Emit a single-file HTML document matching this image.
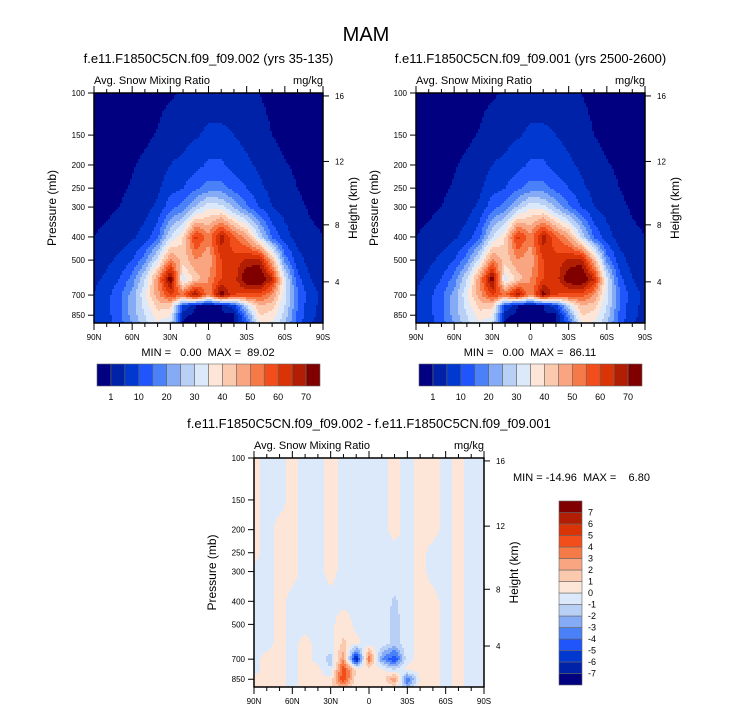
<!DOCTYPE html>
<html><head><meta charset="utf-8"><style>
body{margin:0;background:#fff;}
svg{display:block;font-family:"Liberation Sans",sans-serif;}
text{white-space:pre;}
</style></head><body>
<svg id="fig" width="733" height="712" viewBox="0 0 733 712" xmlns="http://www.w3.org/2000/svg">
<rect width="733" height="712" fill="#fff"/>
<text x="366" y="41" font-size="20" text-anchor="middle">MAM</text>
</svg>
<script>
// ---------- data ----------
const lats = [90,80,70,60,50,40,30,20,10,0,-10,-20,-30,-40,-50,-60,-70,-80,-90];
const levels = [100,150,200,250,300,400,500,600,700,775,850,925];
const snowA = [
 [0,0,0,0,0,0,0.5,1.5,2,2.5,2.5,2.5,2,1,0.3,0,0,0,0],
 [0,0,0,0,0.5,1.2,3,3.5,4.5,6,6,5,3.5,2,1,0.3,0,0,0],
 [0,0,0.3,0.8,1.5,2.5,5,6,8,11,11,8,6,4,2,1.2,0.5,0,0],
 [0,0.3,0.6,1.2,2,4,8,10,14,17,17,13,10,6,3.5,2,1,0.3,0],
 [0.3,0.5,1,1.8,3,6,13,17,26,34,32,24,16,10,5,3,1.5,0.7,0.4],
 [1,1.5,2.5,4,7,14,30,40,62,52,68,56,48,30,14,7,3,1.5,1],
 [2,4,6,10,18,32,52,42,50,46,60,62,66,68,45,18,7,3,1.5],
 [4,6,10,17,30,50,75,32,42,50,60,62,76,78,65,32,12,5,3],
 [5,8,14,22,34,48,60,55,72,50,75,60,58,58,50,32,16,7,4],
 [5,8,14,22,32,42,42,10,1,1,1,8,30,45,42,30,15,6,4],
 [5,8,14,22,30,38,36,2,0,0,0,0,18,40,38,28,14,6,4],
 [5,8,12,20,28,34,30,0,0,0,0,0,12,34,34,26,12,5,3]
];
const snowB = [
 [0,0,0,0,0,0,0.5,1.5,2,2.5,2.5,2.5,2,1,0.3,0,0,0,0],
 [0,0,0,0,0.5,1.2,3,3.5,4.5,6,6,5,3.5,2,1,0.3,0,0,0],
 [0,0,0.3,0.8,1.5,2.5,5,6,8,11,11,8,6,4,2,1.2,0.5,0,0],
 [0,0.3,0.6,1.2,2,4,8,10,14,17,17,13,10,6,3.5,2,1,0.3,0],
 [0.3,0.5,1,1.8,3,6,13,17,26,34,32,24,16,10,5,3,1.5,0.7,0.4],
 [1,1.5,2.5,4,7,14,30,40,62,52,68,56,48,30,14,7,3,1.5,1],
 [2,4,6,10,18,32,52,42,50,46,60,62,66,68,45,18,7,3,1.5],
 [4,6,10,17,30,50,74,32,42,50,60,62,75,77,65,32,12,5,3],
 [5,8,14,22,34,48,60,55,70,50,73,60,58,58,50,32,16,7,4],
 [5,8,14,22,32,42,42,10,1,1,1,8,30,45,42,30,15,6,4],
 [5,8,14,22,30,38,36,2,0,0,0,0,18,40,38,28,14,6,4],
 [5,8,12,20,28,34,30,0,0,0,0,0,12,34,34,26,12,5,3]
];
const diff = [
 [0.3,-0.3,-0.3,0.3,-0.3,-0.3,0.3,-0.3,-0.3,-0.3,-0.3,0.3,-0.3,0.3,0.3,-0.3,0.3,-0.3,-0.3],
 [0.3,-0.3,-0.3,0.3,-0.3,-0.3,0.3,-0.3,-0.3,-0.3,-0.3,0.3,-0.3,0.3,0.3,-0.3,0.3,-0.3,-0.3],
 [0.3,-0.3,0.3,0.3,-0.3,-0.3,0.3,-0.3,-0.3,-0.3,-0.3,0.3,-0.3,0.3,0.3,-0.3,0.3,-0.3,-0.3],
 [0.3,-0.3,0.3,0.3,-0.3,-0.3,0.3,-0.3,-0.3,-0.3,-0.3,-0.3,-0.3,0.3,-0.3,-0.3,0.3,-0.3,-0.3],
 [-0.3,-0.3,0.3,0.3,-0.3,-0.3,0.3,-0.3,-0.3,-0.3,-0.3,-0.3,-0.3,0.3,-0.3,-0.3,0.3,-0.3,-0.3],
 [-0.3,-0.3,0.3,-0.3,-0.3,-0.3,-0.3,-0.3,-0.3,-0.5,-0.3,-1.2,-0.3,0.3,0.3,-0.3,0.3,-0.3,-0.3],
 [-0.3,-0.3,0.3,-0.3,-0.3,-0.3,-0.3,0.6,-0.3,-0.5,-0.3,-1.5,-0.3,0.3,0.3,-0.3,0.3,-0.3,-0.3],
 [-0.3,-0.3,0.3,-0.3,0.3,-0.3,-0.3,1.2,0.3,-0.5,-0.3,-1.5,-0.3,0.3,0.3,-0.3,0.3,-0.3,-0.3],
 [-0.3,0.3,0.3,-0.3,0.3,-0.3,-1.5,3,-7,4,-3,-5,-0.3,0.3,0.3,-0.3,0.3,-0.3,-0.3],
 [-0.3,0.3,0.3,-0.3,0.3,0.3,-1,5,1,0.3,0.3,-1,0.3,0.3,0.3,-0.3,0.3,-0.3,-0.3],
 [0.3,0.3,0.3,-0.3,0.3,0.3,0.3,5,0.3,0.3,0.3,3,-4,0.3,0.3,-0.3,0.3,-0.3,-0.3],
 [0.3,0.3,0.3,-0.3,0.3,0.3,0.8,2,0.3,0.3,0.3,0.3,-2,0.3,0.3,-0.3,0.3,-0.3,-0.3]
];
const snowBounds = [1,5,10,15,20,25,30,35,40,45,50,55,60,65,70];
const snowTickLabels = ["1","10","20","30","40","50","60","70"];
const diffBounds = [-7,-6,-5,-4,-3,-2,-1,0,1,2,3,4,5,6,7];
const diffTickLabels = ["-7","-6","-5","-4","-3","-2","-1","0","1","2","3","4","5","6","7"];
const palette = ["#000080","#0022a8","#0038d0","#1f55fb","#4a80f8","#86abf6","#b8cff6","#dce9fb","#fde6d7","#fbc9ad","#f9a582","#f67a48","#f24e1c","#d93306","#b21e03","#800000"];
const latTickLabels = ["90N","60N","30N","0","30S","60S","90S"];
const pTicks = [100,150,200,250,300,400,500,700,850];
const kmTicks = [4,8,12,16];

// ---------- helpers ----------
const NS="http://www.w3.org/2000/svg";
const fig=document.getElementById('fig');
function mk(tag,attrs,parent){const e=document.createElementNS(NS,tag);for(const k in attrs)e.setAttribute(k,attrs[k]);(parent||fig).appendChild(e);return e;}
function txt(s,x,y,size,anchor,parent,name,rot){const t=mk('text',{x:x,y:y,'font-size':size,'text-anchor':anchor||'start'},parent);
 
 
 if(rot)t.setAttribute('transform','rotate(-90 '+x+' '+y+')');t.textContent=s;return t;}
const LOGBOT=2.962;
function kmToP(z){z*=1000;if(z<=11000)return 1013.25*Math.pow(1-2.2558e-5*z,5.2559);return 226.32*Math.exp(-(z-11000)/6341.6);}
function sample(grid,lat,lp){
 let fi=(90-lat)/10;fi=Math.max(0,Math.min(18,fi));let i0=Math.min(17,Math.floor(fi)),fx=fi-i0;
 const ll=levels.map(v=>Math.log10(v));let j0=0;
 while(j0<ll.length-2&&lp>ll[j0+1])j0++;
 let fy=(lp-ll[j0])/(ll[j0+1]-ll[j0]);fy=Math.max(0,Math.min(1,fy));
 const a=grid[j0][i0],b=grid[j0][i0+1],c=grid[j0+1][i0],d=grid[j0+1][i0+1];
 return (a*(1-fx)+b*fx)*(1-fy)+(c*(1-fx)+d*fx)*fy;}
function colorIdx(v,bounds){let k=0;while(k<bounds.length&&v>=bounds[k])k++;return k;}

function drawPanel(x0,y0,w,h,grid,bounds,name,title){
 const g=mk('g',{});
 
 
 const xOf=lat=>x0+(90-lat)/180*w;
 const yOf=p=>y0+(Math.log10(p)-2)/(LOGBOT-2)*h;
 const cell=2;
 for(let py=0;py<h;py+=cell){
  const lp=2+(py+cell/2)/h*(LOGBOT-2);
  let runStart=0,runC=-1;
  for(let px=0;;px+=cell){
   const end=px>=w;
   let c=-2;
   if(!end){const lat=90-(px+cell/2)/w*180;c=colorIdx(sample(grid,lat,lp),bounds);}
   if(c!==runC){
    if(runC>=0){const r=mk('rect',{x:x0+runStart,y:y0+py,width:Math.min(px,w)-runStart+0.5,height:Math.min(cell+0.5,h-py),fill:palette[runC]},g);
     
     }
    runStart=px;runC=c;}
   if(end)break;
  }
 }
 const fr=mk('rect',{x:x0,y:y0,width:w,height:h,fill:'none',stroke:'#000','stroke-width':1.5},g);
 
 
 for(let lat=90;lat>=-90;lat-=10){const x=xOf(lat),len=(lat%30===0)?7:4;
  mk('line',{x1:x,y1:y0+h,x2:x,y2:y0+h+len,stroke:'#000'},g);
  mk('line',{x1:x,y1:y0,x2:x,y2:y0-len,stroke:'#000'},g);}
 latTickLabels.forEach((s,i)=>txt(s,x0+i*w/6,y0+h+17,8,'middle',g,'x-tick-label'));
 pTicks.forEach(p=>{const y=yOf(p);mk('line',{x1:x0-6,y1:y,x2:x0,y2:y,stroke:'#000'},g);txt(String(p),x0-9,y+3,8,'end',g,'y-tick-label');});
 kmTicks.forEach(k=>{const y=yOf(kmToP(k));mk('line',{x1:x0+w,y1:y,x2:x0+w+6,y2:y,stroke:'#000'},g);txt(String(k),x0+w+12,y+3,8,'start',g,'height-tick-label');});
 txt('Pressure (mb)',x0-38,y0+h/2,12,'middle',g,'y-axis-title',true);
 txt('Height (km)',x0+w+34,y0+h/2,12,'middle',g,'height-axis-title',true);
 txt('Avg. Snow Mixing Ratio',x0,y0-9,11,'start',g,'variable-label');
 txt('mg/kg',x0+w,y0-9,11,'end',g,'units-label');
 txt(title,x0+w/2,y0-30,13,'middle',g,'panel-title');
}
function hColorbar(x0,y0,w,h,name){
 const g=mk('g',{});
 const bw=w/palette.length;
 palette.forEach((c,i)=>{const r=mk('rect',{x:x0+i*bw,y:y0,width:bw,height:h,fill:c,stroke:'#666','stroke-width':0.6},g);
  });
 snowTickLabels.forEach((s,i)=>txt(s,x0+(2*i+1)*bw,y0+h+14,9,'middle',g,'colorbar-label'));
}
function vColorbar(x0,y0,w,h,name){
 const g=mk('g',{});
 const bh=h/palette.length;
 palette.forEach((c,i)=>{const r=mk('rect',{x:x0,y:y0+h-(i+1)*bh,width:w,height:bh,fill:c,stroke:'#666','stroke-width':0.6},g);
  });
 diffTickLabels.forEach((s,i)=>txt(s,x0+w+6,y0+h-(i+1)*bh+3,9,'start',g,'colorbar-label'));
}
drawPanel(94,93,229,230,snowA,snowBounds,'panel-ctrl','f.e11.F1850C5CN.f09_f09.002 (yrs 35-135)');
drawPanel(416,93,229,230,snowB,snowBounds,'panel-test','f.e11.F1850C5CN.f09_f09.001 (yrs 2500-2600)');
drawPanel(254,458,230,229,diff,diffBounds,'panel-diff','f.e11.F1850C5CN.f09_f09.002 - f.e11.F1850C5CN.f09_f09.001');
txt('MIN =   0.00  MAX =  89.02',208,356,11,'middle',null,'stats-ctrl');
txt('MIN =   0.00  MAX =  86.11',530,356,11,'middle',null,'stats-test');
txt('MIN = -14.96  MAX =    6.80',513,481,11,'start',null,'stats-diff');
hColorbar(97,364,223,22,'colorbar-ctrl');
hColorbar(419,364,223,22,'colorbar-test');
vColorbar(559,501,23,184,'colorbar-diff');
</script>
</body></html>
